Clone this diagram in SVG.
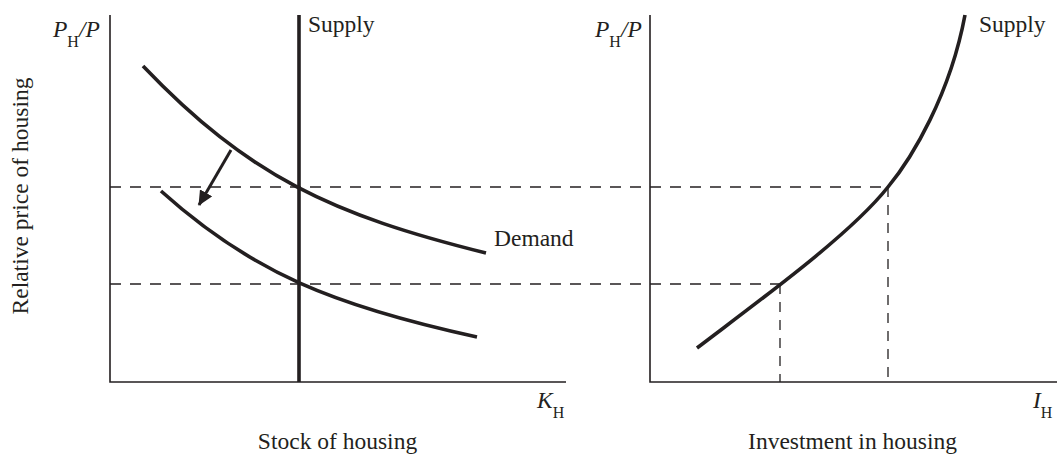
<svg xmlns="http://www.w3.org/2000/svg" width="1057" height="456" viewBox="0 0 1057 456">
<style>
.ax{fill:none;stroke:#231f20;stroke-width:1.6}
.cv{fill:none;stroke:#231f20;stroke-width:3.6;stroke-linecap:butt}
.dh{fill:none;stroke:#231f20;stroke-width:1.3;stroke-dasharray:11 9}
.dv{fill:none;stroke:#231f20;stroke-width:1.3;stroke-dasharray:10 8}
text{font-family:"Liberation Serif","Times New Roman",serif;fill:#231f20;font-size:23.5px}
.it{font-style:italic}
.sub{font-size:16px}
</style>
<defs>
<marker id="ah" markerUnits="userSpaceOnUse" markerWidth="16" markerHeight="14" refX="14" refY="7" orient="auto">
<path d="M0,0 L15,7 L0,14 Z" fill="#231f20"/>
</marker>
</defs>
<rect width="1057" height="456" fill="#fff"/>
<g id="left-panel">
<path class="ax" d="M110,15 V382 H566"/>
<text class="it" x="53" y="37">P<tspan class="sub" dy="10" font-style="normal">H</tspan><tspan dy="-10">/P</tspan></text>
<text class="it" x="537" y="408">K<tspan class="sub" dy="10" font-style="normal">H</tspan></text>
<text x="337.5" y="449" text-anchor="middle">Stock of housing</text>
<text x="28" y="196" text-anchor="middle" transform="rotate(-90 28 196)">Relative price of housing</text>
</g>
<g id="right-panel">
<path class="ax" d="M650,15 V382 H1057"/>
<text class="it" x="595" y="37">P<tspan class="sub" dy="10" font-style="normal">H</tspan><tspan dy="-10">/P</tspan></text>
<text class="it" x="1033" y="408">I<tspan class="sub" dy="10" font-style="normal">H</tspan></text>
<text x="852.5" y="449" text-anchor="middle">Investment in housing</text>
</g>
<g id="connectors">
<path class="dh" d="M110,187 H888"/>
<path class="dh" d="M110,284 H780"/>
<path class="dv" d="M780,284 V382"/>
<path class="dv" d="M888,187 V382"/>
<path fill="none" stroke="#231f20" stroke-width="3" d="M231,150 L199,205" marker-end="url(#ah)"/>
</g>
<g id="supply-stock">
<path class="cv" d="M299,15 V382"/>
<text x="308" y="32">Supply</text>
</g>
<g id="demand">
<path class="cv" d="M143,66 C249,177 333,215 486,253"/>
<text x="494" y="246">Demand</text>
</g>
<g id="demand-new">
<path class="cv" d="M161,191 C252,273 335,306 477,337"/>
</g>
<g id="supply-investment">
<path class="cv" d="M697,348 C760,300 850,235 888,187 C912,158 950,95 965,15"/>
<text x="979" y="32">Supply</text>
</g>
</svg>
